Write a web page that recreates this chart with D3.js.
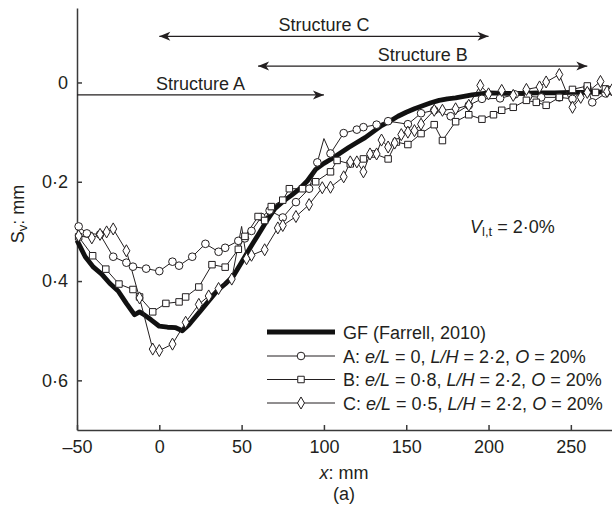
<!DOCTYPE html>
<html>
<head>
<meta charset="utf-8">
<script src="https://cdn.jsdelivr.net/npm/d3@7"></script>
<style>
  body { margin: 0; background: #fff; }
  svg { display: block; font-family: "Liberation Sans", Arial, Helvetica, sans-serif; }
  text { fill: #231f20; }
</style>
</head>
<body>
<div id="chart"></div>
<script>
// ========================
// Data (x: mm, Sv: mm)
// ========================
const gfSeries = [
  [-50, 0.318], [-45, 0.351], [-40, 0.372], [-35, 0.386], [-30, 0.405], [-25, 0.420],
  [-20, 0.445], [-15, 0.468], [-12, 0.462], [-10, 0.466], [-5, 0.478], [0, 0.491],
  [5, 0.493], [10, 0.494], [14, 0.500], [18, 0.488], [20, 0.480], [25, 0.460],
  [30, 0.440], [35, 0.420], [40, 0.406], [45, 0.390], [50, 0.362], [55, 0.334],
  [60, 0.307], [65, 0.280], [70, 0.255], [75, 0.240], [80, 0.228], [85, 0.215],
  [90, 0.198], [95, 0.175], [100, 0.163], [105, 0.153], [110, 0.142], [115, 0.131],
  [120, 0.121], [125, 0.111], [130, 0.099], [135, 0.087], [140, 0.078], [145, 0.068],
  [150, 0.060], [155, 0.053], [160, 0.047], [165, 0.041], [170, 0.036], [175, 0.033],
  [180, 0.031], [185, 0.028], [190, 0.025], [195, 0.023], [200, 0.021], [210, 0.022],
  [220, 0.022], [230, 0.021], [240, 0.021], [250, 0.020], [260, 0.020], [270, 0.019],
  [275, 0.019]
];

const seriesA = [
  [-49, 0.290], [-44, 0.304], [-36, 0.306], [-28, 0.351], [-20, 0.363], [-16, 0.371],
  [-8, 0.375], [0, 0.380], [8, 0.361], [12, 0.369], [20, 0.351], [28, 0.325],
  [36, 0.341], [40, 0.333], [48, 0.319], [52, 0.314], [56, 0.299], [62, 0.271],
  [67, 0.258], [75, 0.272], [83, 0.241], [91, 0.214], [96, 0.161], [100, 0.113],
  [104, 0.143], [112, 0.102], [120, 0.095], [124, 0.090], [132, 0.085], [139, 0.078],
  [151, 0.084], [159, 0.062], [167, 0.056], [177, 0.068], [188, 0.046], [196, 0.033],
  [207, 0.032], [216, 0.024], [224, 0.028], [232, 0.030], [243, 0.030], [251, 0.033],
  [260, 0.010], [263, 0.040], [271, 0.022], [275, 0.018]
];

const seriesB = [
  [-49, 0.311], [-40.5, 0.349], [-32.5, 0.376], [-24.5, 0.406], [-16, 0.417], [-12, 0.432],
  [-4, 0.462], [4, 0.445], [12, 0.442], [16, 0.432], [24, 0.412], [32, 0.367],
  [40, 0.372], [48, 0.336], [52, 0.310], [60, 0.270], [64, 0.278], [68, 0.250],
  [75, 0.237], [79, 0.214], [87, 0.214], [95, 0.200], [104, 0.180], [108, 0.157],
  [116, 0.164], [124, 0.154], [131, 0.144], [139, 0.154], [144, 0.120], [151, 0.125],
  [159, 0.103], [167, 0.085], [172, 0.117], [180, 0.079], [188, 0.065], [196, 0.074],
  [203, 0.065], [208, 0.056], [215, 0.050], [223, 0.036], [229, 0.040], [235, 0.046],
  [243, 0.030], [251, 0.014], [260, 0.007], [265, 0.020], [271, 0.013], [275, 0.015]
];

const seriesC = [
  [-49, 0.309], [-41, 0.313], [-36, 0.306], [-32, 0.301], [-28, 0.295], [-20, 0.339],
  [-12, 0.434], [-4, 0.537], [0, 0.540], [8, 0.527], [16, 0.483], [24, 0.447],
  [30, 0.430], [36, 0.415], [44, 0.396], [50, 0.290], [53, 0.355], [56, 0.348],
  [64, 0.337], [72, 0.293], [75, 0.288], [83, 0.270], [91, 0.246], [99, 0.212],
  [104, 0.211], [112, 0.190], [116, 0.160], [120, 0.160], [124, 0.180], [128, 0.144],
  [132, 0.144], [135, 0.116], [139, 0.130], [143, 0.122], [147, 0.105], [151, 0.100],
  [155, 0.097], [159, 0.084], [167, 0.056], [172, 0.056], [180, 0.053], [188, 0.046],
  [195, 0.006], [200, 0.023], [208, 0.016], [215, 0.026], [223, 0.014], [231, 0.009],
  [235, -0.001], [243, -0.016], [251, 0.050], [256, 0.030], [260, 0.020], [268, -0.002],
  [272, 0.018], [275, 0.015]
];

// points drawn as line vertices only (no marker in the original)
const unmarkedA = [100];
const unmarkedB = [];
const unmarkedC = [50];

const xTicks = [-50, 0, 50, 100, 150, 200, 250];
const yTicks = [0, 0.2, 0.4, 0.6];

// structure annotations: [label, start x, end x, level (Sv), head at start?]
const structures = [
  ["Structure C", 0, 200, -0.093, true],
  ["Structure B", 60, 260, -0.033, true],
  ["Structure A", -50, 100, 0.025, false]
];

const legendLabels = [
  [["GF (Farrell, 2010)", false]],
  [["A: ", false], ["e/L", true], [" = 0, ", false], ["L/H", true], [" = 2·2, ", false], ["O", true], [" = 20%", false]],
  [["B: ", false], ["e/L", true], [" = 0·8, ", false], ["L/H", true], [" = 2·2, ", false], ["O", true], [" = 20%", false]],
  [["C: ", false], ["e/L", true], [" = 0·5, ", false], ["L/H", true], [" = 2·2, ", false], ["O", true], [" = 20%", false]]
];

// ========================
// Setup
// ========================
const width = 612, height = 511;
const ink = "#231f20";

const svg = d3.select("#chart").append("svg")
  .attr("width", width)
  .attr("height", height);

const x = d3.scaleLinear().domain([-50, 275]).range([77, 612]);
const y = d3.scaleLinear().domain([-0.15, 0.7]).range([8, 430]);

const fmt = d => d === 0 ? "0" : d3.format(".1f")(d).replace(".", "·");

// Axes
svg.append("g")
  .attr("transform", `translate(${x.range()[0]},0)`)
  .call(d3.axisLeft(y).tickValues(yTicks).tickFormat(fmt).tickSizeInner(-5).tickSizeOuter(0).tickPadding(9))
  .call(g => g.selectAll("text").style("font-size", "18px").attr("fill", ink))
  .call(g => g.selectAll("path, line").attr("stroke", "#3a3a3a").attr("stroke-width", 1.5));

svg.append("g")
  .attr("transform", `translate(0,${y.range()[1]})`)
  .call(d3.axisBottom(x).tickValues(xTicks).tickFormat(d => String(d).replace("-", "–")).tickSizeInner(-5).tickSizeOuter(0).tickPadding(10))
  .call(g => g.selectAll("text").style("font-size", "18px").attr("fill", ink))
  .call(g => g.selectAll("path, line").attr("stroke", "#3a3a3a").attr("stroke-width", 1.5));

// Axis titles
const yTitle = svg.append("text")
  .attr("transform", `translate(24,214) rotate(-90)`)
  .attr("text-anchor", "middle")
  .style("font-size", "18px");
yTitle.append("tspan").text("S");
yTitle.append("tspan").attr("baseline-shift", "-25%").style("font-size", "13px").text("v");
yTitle.append("tspan").text(": mm");

const xTitle = svg.append("text")
  .attr("x", 344).attr("y", 479)
  .attr("text-anchor", "middle")
  .style("font-size", "18px");
xTitle.append("tspan").style("font-style", "italic").text("x");
xTitle.append("tspan").text(": mm");

svg.append("text")
  .attr("x", 344).attr("y", 500)
  .attr("text-anchor", "middle")
  .style("font-size", "18px")
  .text("(a)");

// ========================
// Structure arrows
// ========================
svg.append("defs").append("marker")
  .attr("id", "head")
  .attr("viewBox", "-12 -6 12 12")
  .attr("refX", 0).attr("refY", 0)
  .attr("markerUnits", "userSpaceOnUse")
  .attr("markerWidth", 12).attr("markerHeight", 12)
  .attr("orient", "auto-start-reverse")
  .append("path")
  .attr("d", "M0,0 L-11,-4.5 L-8,0 L-11,4.5 Z")
  .attr("fill", ink);

structures.forEach(([label, x0, x1, lv, both]) => {
  svg.append("line")
    .attr("x1", x(x0)).attr("x2", x(x1))
    .attr("y1", y(lv)).attr("y2", y(lv))
    .attr("stroke", ink).attr("stroke-width", 1.3)
    .attr("marker-end", "url(#head)")
    .attr("marker-start", both ? "url(#head)" : null);
  svg.append("text")
    .attr("x", x((x0 + x1) / 2))
    .attr("y", y(lv) - 5)
    .attr("text-anchor", "middle")
    .style("font-size", "18px")
    .text(label);
});

// V annotation
const vText = svg.append("text")
  .attr("x", 470).attr("y", 233)
  .style("font-size", "18px");
vText.append("tspan").style("font-style", "italic").text("V");
vText.append("tspan").attr("baseline-shift", "-25%").style("font-size", "13px").text("l,t");
vText.append("tspan").text(" = 2·0%");

// ========================
// Lines
// ========================
const line = d3.line().x(d => x(d[0])).y(d => y(d[1]));

svg.append("path")
  .datum(gfSeries)
  .attr("d", line)
  .attr("fill", "none")
  .attr("stroke", "#111")
  .attr("stroke-width", 4.8)
  .attr("stroke-linejoin", "round");

const circle = d3.symbol().type(d3.symbolCircle).size(46);
const square = d3.symbol().type(d3.symbolSquare).size(42);
const diamond = d3.symbol().type(d3.symbolDiamond).size(42);

const thinSeries = [
  { data: seriesA, sym: circle, skip: unmarkedA },
  { data: seriesB, sym: square, skip: unmarkedB },
  { data: seriesC, sym: diamond, skip: unmarkedC }
];

thinSeries.forEach(s => {
  svg.append("path")
    .datum(s.data)
    .attr("d", line)
    .attr("fill", "none")
    .attr("stroke", ink)
    .attr("stroke-width", 1);
});

thinSeries.forEach(s => {
  svg.append("g").selectAll("path")
    .data(s.data.filter(d => !s.skip.includes(d[0])))
    .join("path")
    .attr("transform", d => `translate(${x(d[0])},${y(d[1])})`)
    .attr("d", s.sym())
    .attr("fill", "#fff")
    .attr("stroke", ink)
    .attr("stroke-width", 1);
});

// ========================
// Legend
// ========================
const legendRows = [332, 356, 379.5, 403];
const legendSyms = [null, circle, square, diamond];

legendLabels.forEach((parts, i) => {
  const ly = legendRows[i];
  svg.append("line")
    .attr("x1", 267).attr("x2", 335)
    .attr("y1", ly).attr("y2", ly)
    .attr("stroke", i === 0 ? "#111" : ink)
    .attr("stroke-width", i === 0 ? 4.8 : 1);
  if (legendSyms[i]) {
    svg.append("path")
      .attr("transform", `translate(301,${ly})`)
      .attr("d", legendSyms[i]())
      .attr("fill", "#fff")
      .attr("stroke", ink);
  }
  const t = svg.append("text")
    .attr("x", 343).attr("y", ly + 6.5)
    .style("font-size", "18px");
  parts.forEach(([str, it]) => {
    t.append("tspan").style("font-style", it ? "italic" : "normal").text(str);
  });
});
</script>
</body>
</html>
